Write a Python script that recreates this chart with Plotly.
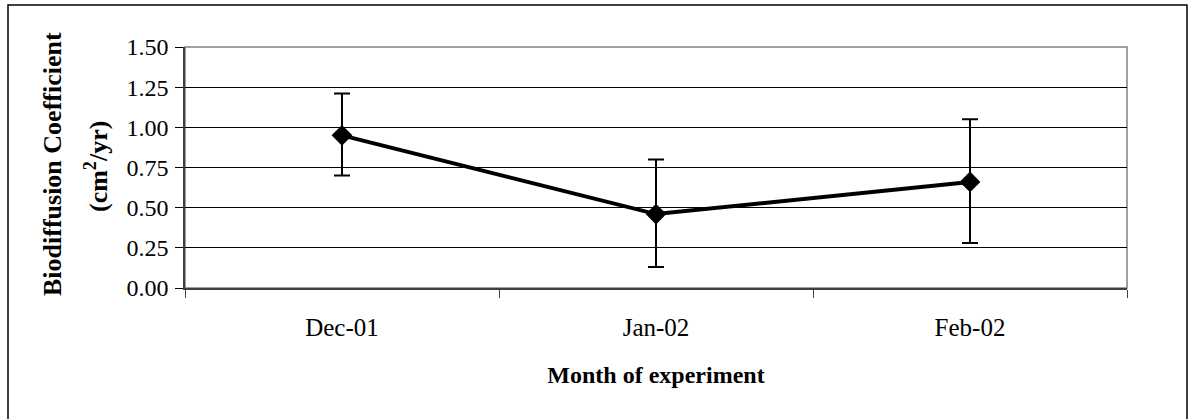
import plotly.graph_objects as go

months = ["Dec-01", "Jan-02", "Feb-02"]
biodiff = [0.95, 0.46, 0.66]
err_plus = [0.26, 0.34, 0.39]
err_minus = [0.25, 0.33, 0.38]
y_ticks = [0.0, 0.25, 0.5, 0.75, 1.0, 1.25, 1.5]
y_labels = ["0.00", "0.25", "0.50", "0.75", "1.00", "1.25", "1.50"]

W, H = 1188, 419
L, R, T, B = 185, 1127, 47, 288
PW, PH = R - L, B - T

def px(x):
    return (x - L) / PW

def py(y):
    return (B - y) / PH

FONT = "Liberation Serif"

fig = go.Figure()
fig.add_trace(go.Scatter(
    x=months, y=biodiff, mode="lines+markers",
    line=dict(color="black", width=4),
    marker=dict(symbol="diamond", size=16, color="black"),
    error_y=dict(type="data", symmetric=False, array=err_plus, arrayminus=err_minus,
                 color="black", thickness=2, width=8),
    showlegend=False,
))

shapes = [
    dict(type="rect", xref="paper", yref="paper", x0=px(8), x1=px(1187), y0=py(422), y1=py(5),
         line=dict(color="black", width=1.5), layer="below"),
    dict(type="rect", xref="paper", yref="paper", x0=0, x1=1, y0=0, y1=1,
         line=dict(color="#808080", width=1.5), layer="below"),
]

annotations = [
    dict(text="<b>Biodiffusion Coefficient</b>", textangle=-90, xref="paper", yref="paper",
         x=px(52), y=py(164), xanchor="center", yanchor="middle", showarrow=False,
         font=dict(family=FONT, size=26, color="black")),
    dict(text="<b>(cm<sup>2</sup>/yr)</b>", textangle=-90, xref="paper", yref="paper",
         x=px(96), y=py(167), xanchor="center", yanchor="middle", showarrow=False,
         font=dict(family=FONT, size=26, color="black")),
]

fig.update_layout(
    width=W, height=H,
    margin=dict(l=L, r=W - R, t=T, b=H - B),
    paper_bgcolor="white", plot_bgcolor="white",
    font=dict(family=FONT, size=24, color="black"),
    shapes=shapes, annotations=annotations,
    xaxis=dict(
        type="category", range=[-0.5, 2.5], tickson="boundaries",
        ticks="outside", ticklen=8, tickcolor="#404040", tickwidth=1,
        showline=True, linecolor="#404040", linewidth=2,
        showgrid=False, zeroline=False,
        tickfont=dict(family=FONT, size=25),
        ticklabelstandoff=16,
        title=dict(text="<b>Month of experiment</b>", font=dict(family=FONT, size=24), standoff=26),
    ),
    yaxis=dict(
        range=[0, 1.5], tickvals=y_ticks, ticktext=y_labels,
        ticks="outside", ticklen=8, tickcolor="black", tickwidth=1,
        showline=True, linecolor="#404040", linewidth=1.5,
        showgrid=True, gridcolor="black", gridwidth=1, zeroline=False,
        tickfont=dict(family=FONT, size=24),
        ticklabelstandoff=2,
    ),
)

fig.write_html("out.html")
